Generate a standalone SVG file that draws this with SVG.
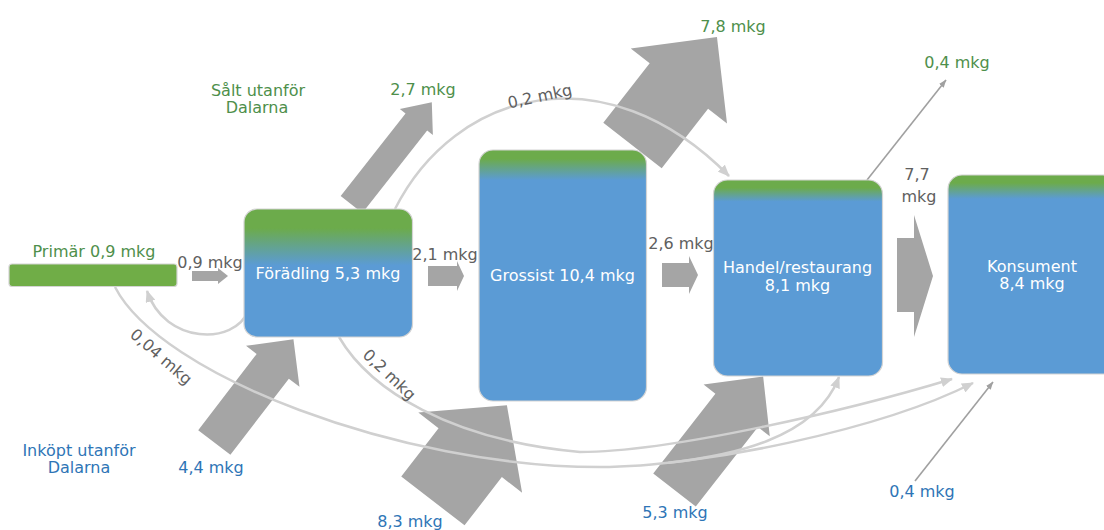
<svg xmlns="http://www.w3.org/2000/svg" width="1104" height="530" viewBox="0 0 1104 530">
<defs>
<style>
text{font-family:"DejaVu Sans","Liberation Sans",sans-serif;font-size:16px;}
.lw{fill:#ffffff;text-anchor:middle;}
.lg{fill:#4E8F4B;text-anchor:middle;}
.lb{fill:#2E75B6;text-anchor:middle;}
.lk{fill:#606060;text-anchor:middle;}
.blk{fill:#A5A5A5;}
.crv{fill:none;stroke:#D0D0D0;stroke-width:2.5;marker-end:url(#ah);}
.thin{fill:none;stroke:#A0A0A0;stroke-width:1.6;marker-end:url(#ahd);}
.box{stroke:#D4D4D4;stroke-width:1.2;}
</style>
<marker id="ah" viewBox="0 0 12 10" refX="11" refY="5" markerWidth="12" markerHeight="10" markerUnits="userSpaceOnUse" orient="auto"><path d="M0,0 L12,5 L0,10 z" fill="#D0D0D0"/></marker>
<marker id="ahd" viewBox="0 0 8 6" refX="7.5" refY="3" markerWidth="8" markerHeight="6" markerUnits="userSpaceOnUse" orient="auto"><path d="M0,0 L8,3 L0,6 z" fill="#A0A0A0"/></marker>
<linearGradient id="gF" x1="0" y1="0" x2="0" y2="1"><stop offset="0" stop-color="#6CAB4B"/><stop offset="0.15" stop-color="#6CAB4B"/><stop offset="0.44" stop-color="#5B9BD5"/><stop offset="1" stop-color="#5B9BD5"/></linearGradient>
<linearGradient id="gG" x1="0" y1="0" x2="0" y2="1"><stop offset="0" stop-color="#6CAB4B"/><stop offset="0.035" stop-color="#6CAB4B"/><stop offset="0.12" stop-color="#5B9BD5"/><stop offset="1" stop-color="#5B9BD5"/></linearGradient>
<linearGradient id="gH" x1="0" y1="0" x2="0" y2="1"><stop offset="0" stop-color="#6CAB4B"/><stop offset="0.04" stop-color="#6CAB4B"/><stop offset="0.11" stop-color="#5B9BD5"/><stop offset="1" stop-color="#5B9BD5"/></linearGradient>
<linearGradient id="gK" x1="0" y1="0" x2="0" y2="1"><stop offset="0" stop-color="#6CAB4B"/><stop offset="0.04" stop-color="#6CAB4B"/><stop offset="0.12" stop-color="#5B9BD5"/><stop offset="1" stop-color="#5B9BD5"/></linearGradient>
</defs>
<rect width="1104" height="530" fill="#ffffff"/>

<g id="connectors">
  <!-- block arrows -->
  <polygon class="blk" points="0,-13.75 105,-13.75 105,-21 130,0 105,21 105,13.75 0,13.75" transform="translate(351.5,204.5) rotate(-51.85)"/>
  <polygon class="blk" points="0,-37 75.5,-37 75.5,-61 137.5,0 75.5,61 75.5,37 0,37" transform="translate(632.5,145.5) rotate(-52.1)"/>
  <polygon class="blk" points="0,-20.3 96,-20.3 96,-33.7 130,0 96,33.7 96,20.3 0,20.3" transform="translate(214.3,442.5) rotate(-52.5)"/>
  <polygon class="blk" points="0,-40 61,-40 61,-65.6 121,0 61,65.6 61,40 0,40" transform="translate(432.9,500.9) rotate(-52.3)"/>
  <polygon class="blk" points="0,-27 101,-27 101,-42 144,0 101,42 101,27 0,27" transform="translate(674.5,490) rotate(-52)"/>
  <polygon class="blk" points="192,271 218,271 218,268 228,276 218,284 218,281 192,281"/>
  <polygon class="blk" points="428,266 457,266 457,261 464,276 457,291 457,286 428,286"/>
  <polygon class="blk" points="662,263 689,263 689,256 698,275 689,294 689,287 662,287"/>
  <polygon class="blk" points="897,238 914,238 914,215 933,276 914,337 914,312 897,312"/>
  <!-- thin curves -->
  <path class="crv" d="M248,311 C235,345 165,345 147,291"/>
  <path class="crv" d="M395,209 C455,90 605,50 729,176"/>
  <path class="crv" d="M339,337 C370,390 450,440 580,452 C670,452 850,410 952,379"/>
  <path class="crv" d="M115,287 C160,375 400,467 600,467 C700,467 880,430 973,383"/>
  <path class="crv" d="M668.3,462.8 C728,456 815,440 839,377"/>
  <path class="thin" d="M867,180 L946,80"/>
  <path class="thin" d="M915,481 L993,382"/>
  <!-- connector labels -->
  <text class="lk" x="210" y="268">0,9 mkg</text>
  <text class="lk" x="445" y="260">2,1 mkg</text>
  <text class="lk" x="681" y="249">2,6 mkg</text>
  <text class="lk" x="917" y="180">7,7</text>
  <text class="lk" x="919" y="202">mkg</text>
  <text class="lk" x="541" y="101.6" transform="rotate(-12 541 101.6)">0,2 mkg</text>
  <text class="lk" x="157.7" y="360.8" transform="rotate(41 157.7 360.8)">0,04 mkg</text>
  <text class="lk" x="385.6" y="378.6" transform="rotate(43.5 385.6 378.6)">0,2 mkg</text>
  <text class="lg" x="733" y="32">7,8 mkg</text>
  <text class="lg" x="423" y="95">2,7 mkg</text>
  <text class="lg" x="957" y="68">0,4 mkg</text>
  <text class="lb" x="211" y="473">4,4 mkg</text>
  <text class="lb" x="410" y="527">8,3 mkg</text>
  <text class="lb" x="675" y="518">5,3 mkg</text>
  <text class="lb" x="922" y="497">0,4 mkg</text>
</g>

<g id="salt-utanfor">
  <text class="lg" x="258" y="96">Sålt utanför</text>
  <text class="lg" x="257" y="113">Dalarna</text>
</g>
<g id="inkopt-utanfor">
  <text class="lb" x="79" y="456">Inköpt utanför</text>
  <text class="lb" x="79" y="473">Dalarna</text>
</g>

<g id="primar">
  <rect x="9" y="264" width="168" height="22.5" rx="3" fill="#70AD47" class="box"/>
  <text class="lg" x="94" y="257">Primär 0,9 mkg</text>
</g>
<g id="foradling">
  <rect x="244" y="209" width="168.5" height="128" rx="13" fill="url(#gF)" class="box"/>
  <text class="lw" x="328" y="279">Förädling 5,3 mkg</text>
</g>
<g id="grossist">
  <rect x="479" y="150" width="167.5" height="251" rx="14" fill="url(#gG)" class="box"/>
  <text class="lw" x="562.5" y="281">Grossist 10,4 mkg</text>
</g>
<g id="handel">
  <rect x="713.5" y="180" width="169" height="196" rx="14" fill="url(#gH)" class="box"/>
  <text class="lw" x="797.5" y="273">Handel/restaurang</text>
  <text class="lw" x="797.5" y="291">8,1 mkg</text>
</g>
<g id="konsument">
  <rect x="948" y="175" width="169" height="199" rx="14" fill="url(#gK)" class="box"/>
  <text class="lw" x="1032" y="272">Konsument</text>
  <text class="lw" x="1032" y="289">8,4 mkg</text>
</g>
</svg>
